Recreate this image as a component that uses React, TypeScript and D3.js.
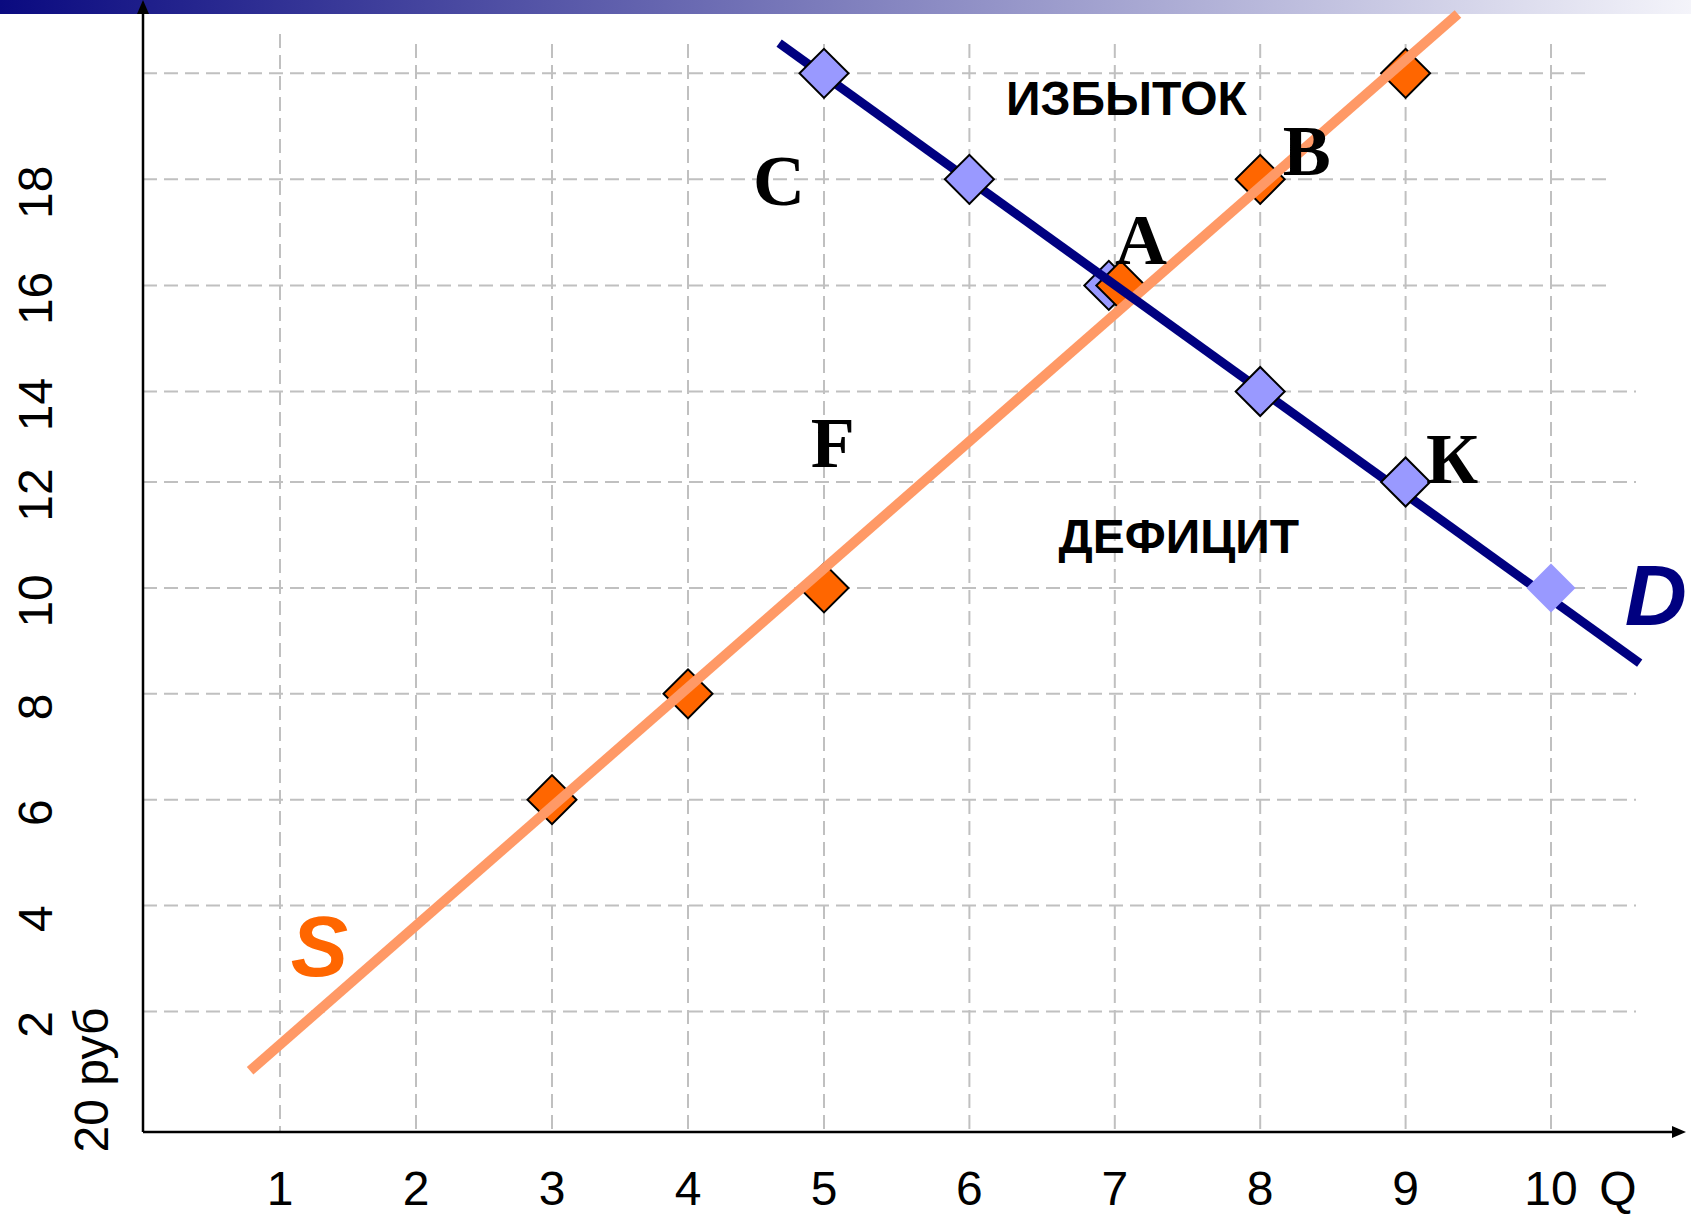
import React from 'react';
import * as d3 from 'd3';

// quantity ticks on the horizontal axis, price ticks on the vertical axis
const qTicks = [1, 2, 3, 4, 5, 6, 7, 8, 9, 10];
const pTicks = [2, 4, 6, 8, 10, 12, 14, 16, 18];
const pGrid = [2, 4, 6, 8, 10, 12, 14, 16, 18, 20];

// supply (S) and demand (D) points
const supplyQ = [3, 4, 5, 7, 8, 9];
const supplyP = [6, 8, 10, 16, 18, 20];
const demandQ = [5, 6, 7, 8, 9, 10];
const demandP = [20, 18, 16, 14, 12, 10];

// drawn line ends (q, p)
const supplyLine: [number, number][] = [[0.78, 0.88], [9.36, 21.12]];
const demandLine: [number, number][] = [[4.67, 20.57], [10.61, 8.58]];

// point letters and area captions, placed in (q, p)
const letters = [
  { text: 'C', q: 4.67, p: 17.52 },
  { text: 'B', q: 8.32, p: 18.09 },
  { text: 'A', q: 7.18, p: 16.4 },
  { text: 'F', q: 5.06, p: 12.33 },
  { text: 'К', q: 9.32, p: 11.98 },
];
const captions = [
  { text: 'ИЗБЫТОК', q: 7.08, p: 19.21 },
  { text: 'ДЕФИЦИТ', q: 7.44, p: 10.66 },
];

const W = 1691;
const H = 1218;
const axisX = 143;
const axisY = 1132;

const App = () => {
  // the hand-drawn grid is a little uneven, so both scales are piecewise
  const x = d3.scaleLinear().domain([1, 5, 10]).range([280, 824, 1551]);
  const y = d3.scaleLinear().domain([2, 12, 14, 20]).range([1011.5, 482, 391.5, 73.3]);

  const line = d3.line<[number, number]>()
    .x(d => x(d[0]))
    .y(d => y(d[1]));

  const diamond = d3.symbol().type(d3.symbolSquare).size(1200)();

  const supply = supplyQ.map((q, i) => ({ q, p: supplyP[i] }));
  const demand = demandQ.map((q, i) => ({ q, p: demandP[i] }));

  const sans = '"Liberation Sans", Arial, sans-serif';
  const serif = '"Liberation Serif", "Times New Roman", serif';

  const marker = (d: { q: number; p: number }, fill: string, key: string, outline = true, dx = 0) => (
    <path
      key={key}
      d={diamond!}
      transform={`translate(${x(d.q) + dx},${y(d.p)}) rotate(45)`}
      fill={fill}
      stroke={outline ? '#000' : 'none'}
      strokeWidth={2}
    />
  );

  return (
    <svg width={W} height={H} style={{ position: 'absolute', left: 0, top: 0, background: '#fff' }}>
      <defs>
        <linearGradient id="topbar" x1="0" x2="1" y1="0" y2="0">
          <stop offset="0" stopColor="#0a0a80" />
          <stop offset="1" stopColor="#f4f4fa" />
        </linearGradient>
      </defs>
      <rect x={0} y={0} width={W} height={14} fill="url(#topbar)" />

      {/* grid */}
      <g stroke="#c0c0c0" strokeWidth={2} strokeDasharray="14,7">
        {qTicks.map(q => (
          <line key={`v${q}`} x1={x(q)} x2={x(q)} y1={q === 1 ? 34 : 44} y2={axisY} />
        ))}
        {pGrid.map(p => (
          <line key={`h${p}`} x1={axisX} x2={p === 20 ? 1592 : p > 15 ? 1612 : 1636} y1={y(p)} y2={y(p)} />
        ))}
      </g>

      {/* axes */}
      <line x1={axisX} x2={axisX} y1={8} y2={axisY} stroke="#000" strokeWidth={2.5} />
      <path d={`M${axisX},0 L${axisX - 6},14 L${axisX + 6},14 Z`} fill="#000" />
      <line x1={axisX} x2={1674} y1={axisY} y2={axisY} stroke="#000" strokeWidth={2.5} />
      <path d={`M1686,${axisY} L1672,${axisY - 6} L1672,${axisY + 6} Z`} fill="#000" />

      {/* tick labels */}
      <g fontFamily={sans} fontSize={48} fill="#000" textAnchor="middle">
        {qTicks.map(q => (
          <text key={`xt${q}`} x={x(q)} y={1205}>{q}</text>
        ))}
        <text x={x(10.46)} y={1205}>Q</text>
        {pTicks.map(p => (
          <text key={`yt${p}`} transform={`translate(52,${y(p) + 13}) rotate(-90)`}>{p}</text>
        ))}
        <text transform={`translate(108,1080) rotate(-90)`}>20 руб</text>
      </g>

      {/* at the crossing both markers sit under the lines, orange one slightly right */}
      {marker(demand[2], '#9999ff', 'dA', true, -6)}
      {supply.map((d, i) => marker(d, '#ff6600', `s${i}`, true, d.q === 7 ? 6 : 0))}

      <path d={line(supplyLine)!} fill="none" stroke="#ff9966" strokeWidth={10} />
      <path d={line(demandLine)!} fill="none" stroke="#000080" strokeWidth={9} />

      {demand.map((d, i) =>
        i === 2 ? null : marker(d, '#9999ff', `d${i}`, i !== demand.length - 1)
      )}

      {/* captions */}
      <g fontFamily={sans} fontWeight="bold" fontSize={48} textAnchor="middle" fill="#000">
        {captions.map(c => (
          <text key={c.text} x={x(c.q)} y={y(c.p)}>{c.text}</text>
        ))}
      </g>
      <g fontFamily={serif} fontWeight="bold" fontSize={72} textAnchor="middle" fill="#000">
        {letters.map(c => (
          <text key={c.text} x={x(c.q)} y={y(c.p)}>{c.text}</text>
        ))}
      </g>
      <text x={x(1.29)} y={y(2.67)} fontFamily={sans} fontWeight="bold" fontStyle="italic"
        fontSize={86} fill="#ff6600" textAnchor="middle">S</text>
      <text x={x(10.72)} y={y(9.29)} fontFamily={sans} fontWeight="bold" fontStyle="italic"
        fontSize={86} fill="#000080" textAnchor="middle">D</text>
    </svg>
  );
};

export default App;
